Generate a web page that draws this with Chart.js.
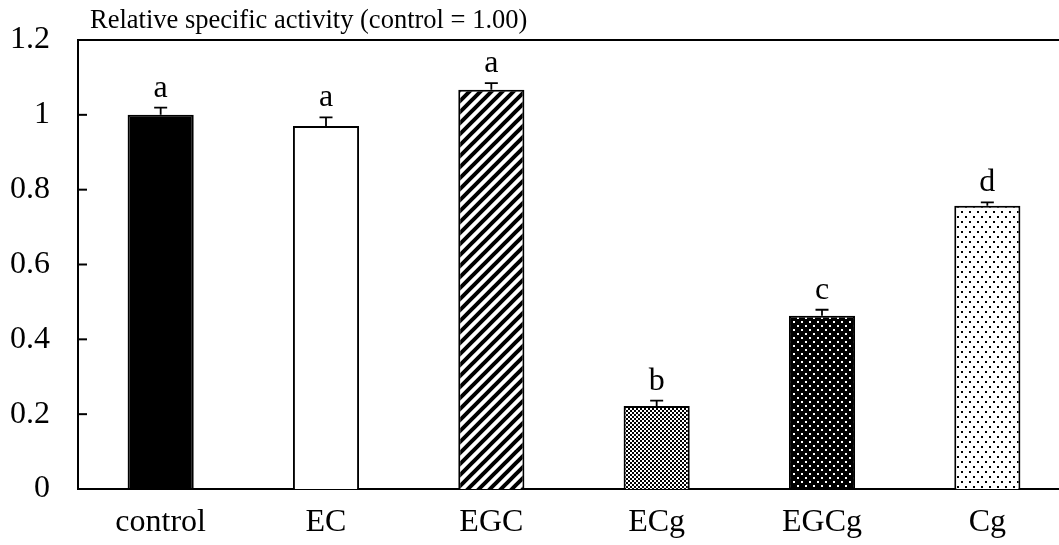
<!DOCTYPE html>
<html>
<head>
<meta charset="utf-8">
<script src="https://cdn.jsdelivr.net/npm/chart.js@4.4.0/dist/chart.umd.min.js"></script>
<style>
  body { margin: 0; overflow: hidden; background: #fff; }
  #wrap { width: 1070px; height: 545px; }
</style>
</head>
<body>
<div id="wrap"><canvas id="chart"></canvas></div>
<script>
// data
const categories = ['control', 'EC', 'EGC', 'ECg', 'EGCg', 'Cg'];
const values = [1.00, 0.97, 1.067, 0.222, 0.463, 0.757];
const errors = [0.019, 0.023, 0.018, 0.014, 0.016, 0.009];
const letters = ['a', 'a', 'a', 'b', 'c', 'd'];
const yTicks = [0, 0.2, 0.4, 0.6, 0.8, 1, 1.2];
const yLabel = 'Relative specific activity (control = 1.00)';

const FONT = '"Liberation Serif", "Times New Roman", serif';

// little helper to build fill patterns
function makePattern(w, h, draw) {
    const c = document.createElement('canvas');
    c.width = w; c.height = h;
    const g = c.getContext('2d');
    draw(g, w, h);
    return g.createPattern(c, 'repeat');
}

const stripes = makePattern(11, 11, (g, w, h) => {
    g.fillStyle = '#fff'; g.fillRect(0, 0, w, h);
    g.strokeStyle = '#000'; g.lineWidth = 4;
    g.beginPath();
    g.moveTo(-2, h + 2); g.lineTo(w + 2, -2);
    g.moveTo(-2, 2); g.lineTo(2, -2);
    g.moveTo(w - 2, h + 2); g.lineTo(w + 2, h - 2);
    g.stroke();
});
const checker = makePattern(4, 4, (g, w, h) => {
    g.fillStyle = '#fff'; g.fillRect(0, 0, w, h);
    g.fillStyle = '#000';
    g.fillRect(0, 0, 2, 2); g.fillRect(2, 2, 2, 2);
});
const darkDots = makePattern(8, 8, (g, w, h) => {
    g.fillStyle = '#000'; g.fillRect(0, 0, w, h);
    g.fillStyle = '#fff';
    g.fillRect(1, 1, 2, 2); g.fillRect(5, 5, 2, 2);
});
const lightDots = makePattern(8, 10, (g, w, h) => {
    g.fillStyle = '#fff'; g.fillRect(0, 0, w, h);
    g.fillStyle = '#000';
    g.fillRect(1, 1, 2, 2); g.fillRect(5, 6, 2, 2);
});
const fills = ['#000', '#fff', stripes, checker, darkDots, lightDots];

// error bars, letters, inside ticks, frame line and axis caption
const extras = {
    id: 'extras',
    afterDatasetsDraw(chart) {
        const { ctx, chartArea, scales } = chart;
        const y = scales.y;
        const meta = chart.getDatasetMeta(0);
        ctx.save();
        ctx.strokeStyle = '#000';
        ctx.fillStyle = '#000';

        // top frame line
        ctx.lineWidth = 2;
        ctx.beginPath();
        ctx.moveTo(chartArea.left, chartArea.top);
        ctx.lineTo(chartArea.right, chartArea.top);
        ctx.stroke();

        // tick marks pointing inwards
        yTicks.forEach(v => {
            const py = y.getPixelForValue(v);
            ctx.beginPath();
            ctx.moveTo(chartArea.left, py);
            ctx.lineTo(chartArea.left + 9, py);
            ctx.stroke();
        });

        ctx.lineWidth = 1.8;
        ctx.font = '32px ' + FONT;
        ctx.textAlign = 'center';
        ctx.textBaseline = 'alphabetic';
        meta.data.forEach((bar, i) => {
            const top = y.getPixelForValue(values[i]);
            const cap = y.getPixelForValue(values[i] + errors[i]);
            ctx.beginPath();
            ctx.moveTo(bar.x, top);
            ctx.lineTo(bar.x, cap);
            ctx.moveTo(bar.x - 6.5, cap);
            ctx.lineTo(bar.x + 6.5, cap);
            ctx.stroke();
            ctx.fillText(letters[i], bar.x, cap - 11);
        });

        ctx.font = '26.5px ' + FONT;
        ctx.textAlign = 'left';
        ctx.fillText(yLabel, 90, 28);
        ctx.restore();
    }
};

new Chart(document.getElementById('chart'), {
    type: 'bar',
    data: {
        labels: categories,
        datasets: [{
            data: values,
            backgroundColor: fills,
            borderColor: '#000',
            borderWidth: 2,
            barPercentage: 0.4,
            categoryPercentage: 1
        }]
    },
    options: {
        responsive: true,
        maintainAspectRatio: false,
        animation: false,
        layout: { padding: { top: 40, left: 0, right: 0, bottom: 0 } },
        plugins: {
            legend: { display: false },
            tooltip: { enabled: false }
        },
        scales: {
            x: {
                grid: { display: false, drawTicks: false },
                border: { color: '#000', width: 2 },
                ticks: {
                    color: '#000',
                    padding: 14,
                    font: { family: FONT, size: 32 }
                },
                afterFit(scale) { scale.height = 56; }
            },
            y: {
                min: 0,
                max: 1.2,
                grid: { display: false, drawTicks: false },
                border: { color: '#000', width: 2 },
                afterBuildTicks(scale) {
                    scale.ticks = yTicks.map(v => ({ value: v }));
                },
                ticks: {
                    color: '#000',
                    padding: 28,
                    font: { family: FONT, size: 32, lineHeight: 0.4 },
                    callback: v => String(+(+v).toFixed(1))
                },
                afterFit(scale) { scale.width = 78; }
            }
        }
    },
    plugins: [extras]
});
</script>
</body>
</html>
